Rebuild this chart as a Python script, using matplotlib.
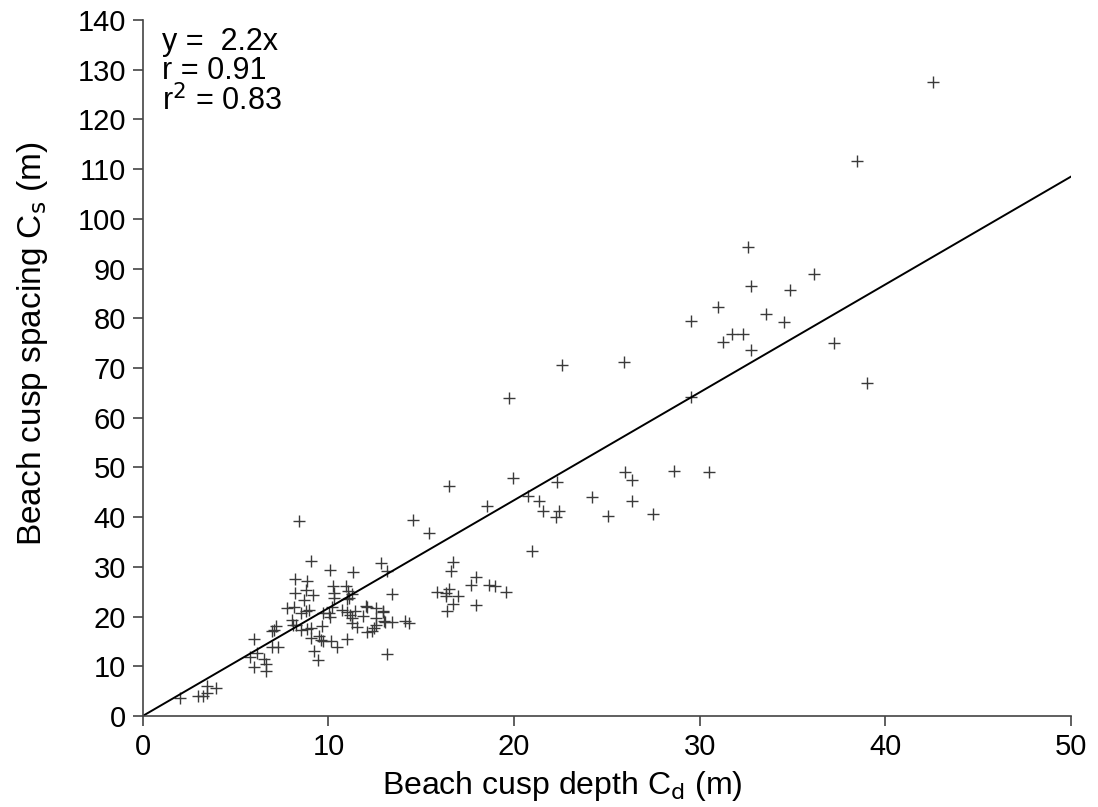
import numpy as np
from matplotlib import pyplot as plt

plt.rcParams["font.family"] = ["Liberation Sans", "DejaVu Sans"]

# cusp depth (m) and spacing (m)
depth = [
    42.57, 38.47, 32.61, 36.16, 32.76, 34.86, 30.96, 29.54, 33.57, 34.56,
    31.73, 32.35, 31.25, 32.76, 37.23, 39.03, 29.52,
    22.6, 25.9, 19.75, 16.51, 19.95, 22.34, 25.98, 26.38, 28.64, 30.48,
    14.54, 15.4, 18.53, 20.74, 21.33, 21.58, 22.42, 22.26, 24.19, 26.38,
    25.07, 27.49, 20.97, 12.85, 13.17, 16.69, 16.62, 17.93, 17.68, 18.64,
    18.96, 19.59, 15.87, 16.32, 16.32, 16.5, 16.98, 16.7, 17.93, 16.39,
    13.42, 12.92, 12.97, 13.42, 14.1, 14.36,
    2.03, 2.96, 3.22, 3.47, 3.47, 3.97, 6.0, 5.77, 6.0, 6.13, 6.54, 6.63,
    6.63, 6.94, 7.06, 7.2, 6.94, 7.26, 8.19, 8.19, 8.86, 8.82, 8.68, 7.75,
    8.14, 8.55, 8.82, 8.02, 8.1, 8.28, 8.5, 8.86,
    8.43, 9.07, 10.08, 11.3, 9.18, 10.26, 10.94, 10.3, 11.07, 11.25, 11.12,
    10.31, 10.98, 8.97, 9.69, 10.17, 10.04, 10.08, 10.71, 10.98, 11.43,
    11.16, 11.25, 12.02, 12.09, 12.56, 12.92, 11.88, 12.54, 13.05, 12.56,
    12.47, 12.06, 12.33, 9.09, 9.63, 11.25, 11.52, 9.06, 9.5, 9.58, 9.72,
    10.12, 10.44, 10.98, 9.22, 9.45, 13.17,
]
spacing = [
    127.6, 111.7, 94.3, 88.9, 86.5, 85.7, 82.2, 79.5, 80.9, 79.3,
    76.9, 76.9, 75.2, 73.6, 75.0, 66.9, 64.1,
    70.7, 71.2, 64.0, 46.3, 47.9, 47.1, 49.0, 47.5, 49.2, 49.0,
    39.5, 36.9, 42.3, 44.3, 43.3, 41.2, 41.2, 40.0, 44.1, 43.3,
    40.3, 40.6, 33.1, 30.7, 29.2, 30.9, 29.2, 28.0, 26.4, 26.4,
    26.2, 24.9, 24.9, 24.7, 24.1, 25.6, 24.1, 22.5, 22.3, 21.1,
    24.5, 21.0, 19.1, 18.9, 19.1, 18.7,
    3.6, 4.0, 4.0, 4.6, 6.1, 5.7, 15.4, 11.9, 9.9, 12.6, 11.5, 10.5,
    9.1, 17.0, 17.3, 18.0, 13.9, 13.9, 27.5, 24.8, 27.2, 25.4, 23.3, 21.8,
    22.0, 20.8, 21.2, 19.3, 18.3, 18.3, 17.3, 17.4,
    39.2, 31.2, 29.4, 29.0, 24.3, 26.2, 26.2, 24.7, 25.2, 24.5, 23.7,
    23.7, 23.5, 21.3, 20.8, 22.0, 20.7, 20.0, 21.3, 21.0, 21.2,
    20.3, 19.7, 22.1, 21.9, 21.7, 21.1, 20.1, 19.7, 19.0, 18.3,
    17.6, 16.8, 17.0, 17.6, 18.1, 18.7, 17.8, 15.6, 16.0, 15.2, 15.0,
    15.0, 13.8, 15.4, 13.1, 11.3, 12.5,
]
slope = 2.17

fig = plt.figure(figsize=(10.98, 8.07), dpi=100)
ax = fig.add_axes([0.130, 0.1128, 0.8454, 0.8624])

ax.plot(depth, spacing, "+", color="#3a3a3a", markersize=8, markeredgewidth=1.0)
xl = np.array([0, 50])
ax.plot(xl, slope * xl, color="black", linewidth=1.4)

ax.set_xlim(0, 50)
ax.set_ylim(0, 140)
ax.set_xticks(np.arange(0, 51, 10))
ax.set_yticks(np.arange(0, 141, 10))
ax.spines["top"].set_visible(False)
ax.spines["right"].set_visible(False)
for s in ("left", "bottom"):
    ax.spines[s].set_color("#444444")
    ax.spines[s].set_linewidth(1.2)
ax.tick_params(direction="out", length=7, width=1.2, color="#444444",
               labelsize=21, pad=5)

ax.set_xlabel("Beach cusp depth C$_\\mathrm{d}$ (m)", fontsize=23, labelpad=6, x=0.452)
ax.set_ylabel("Beach cusp spacing C$_\\mathrm{s}$ (m)", fontsize=24, labelpad=20, y=0.535)

ax.text(0.021, 0.99, "y =  2.2x\nr = 0.91\nr$^2$ = 0.83", transform=ax.transAxes,
        fontsize=22, va="top", ha="left", linespacing=0.95)

fig.savefig("out.png", dpi=100)
